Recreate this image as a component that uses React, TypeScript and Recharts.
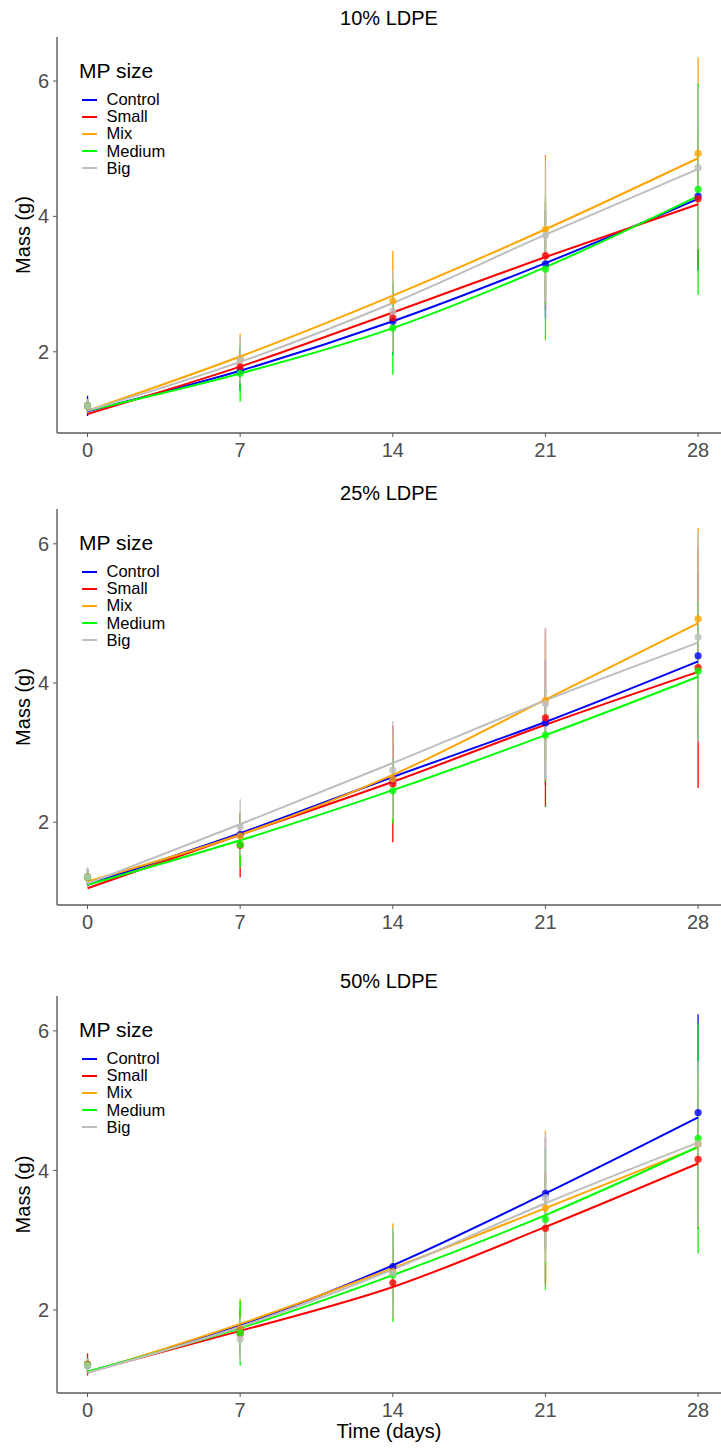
import React from 'react'
import { ComposedChart, Line, Scatter, ErrorBar, XAxis, YAxis, Legend } from 'recharts'

const days = [0, 7, 14, 21, 28]
const groups = ['Control', 'Small', 'Mix', 'Medium', 'Big']
const groupColors = ['#0000FF', '#FF0000', '#FFA500', '#00FF00', '#BEBEBE']
const xTicks = [0, 7, 14, 21, 28]
const yTicks = [2, 4, 6]

// rows follow groups: Control, Small, Mix, Medium, Big
// 10% LDPE
const mean10 = [
  [1.2, 1.72, 2.45, 3.3, 4.3],
  [1.2, 1.78, 2.5, 3.42, 4.26],
  [1.2, 1.9, 2.75, 3.81, 4.93],
  [1.2, 1.68, 2.35, 3.22, 4.4],
  [1.2, 1.88, 2.6, 3.72, 4.72],
]
const sd10 = [
  [0.15, 0.3, 0.5, 0.8, 1.1],
  [0.1, 0.3, 0.5, 0.8, 1.0],
  [0.1, 0.37, 0.74, 1.1, 1.42],
  [0.1, 0.42, 0.69, 1.05, 1.56],
  [0.1, 0.35, 0.6, 1.0, 1.2],
]
const fit10 = [
  [1.12, 1.72, 2.45, 3.31, 4.26],
  [1.08, 1.78, 2.58, 3.4, 4.18],
  [1.13, 1.93, 2.83, 3.81, 4.86],
  [1.13, 1.68, 2.35, 3.25, 4.3],
  [1.13, 1.85, 2.72, 3.73, 4.7],
]

// 25% LDPE
const mean25 = [
  [1.21, 1.82, 2.6, 3.43, 4.39],
  [1.21, 1.67, 2.55, 3.5, 4.22],
  [1.21, 1.8, 2.62, 3.75, 4.92],
  [1.21, 1.68, 2.45, 3.25, 4.17],
  [1.21, 1.93, 2.75, 3.7, 4.66],
]
const sd25 = [
  [0.12, 0.3, 0.55, 0.9, 1.2],
  [0.12, 0.46, 0.84, 1.28, 1.73],
  [0.12, 0.35, 0.6, 0.9, 1.31],
  [0.12, 0.33, 0.47, 0.67, 1.0],
  [0.14, 0.4, 0.7, 1.09, 1.5],
]
const fit25 = [
  [1.1, 1.84, 2.65, 3.44, 4.31],
  [1.05, 1.82, 2.58, 3.4, 4.16],
  [1.15, 1.82, 2.68, 3.76, 4.86],
  [1.1, 1.74, 2.46, 3.25, 4.09],
  [1.12, 1.97, 2.85, 3.75, 4.58],
]

// 50% LDPE
const mean50 = [
  [1.21, 1.72, 2.62, 3.67, 4.83],
  [1.22, 1.66, 2.39, 3.17, 4.16],
  [1.21, 1.73, 2.55, 3.46, 4.38],
  [1.21, 1.67, 2.5, 3.3, 4.46],
  [1.2, 1.58, 2.53, 3.61, 4.38],
]
const sd50 = [
  [0.1, 0.3, 0.5, 0.8, 1.41],
  [0.16, 0.3, 0.5, 0.8, 1.0],
  [0.1, 0.43, 0.69, 1.11, 1.0],
  [0.1, 0.47, 0.67, 1.01, 1.65],
  [0.1, 0.32, 0.65, 0.93, 1.19],
]
const fit50 = [
  [1.11, 1.78, 2.64, 3.67, 4.76],
  [1.11, 1.7, 2.33, 3.19, 4.1],
  [1.1, 1.8, 2.6, 3.46, 4.33],
  [1.12, 1.74, 2.5, 3.36, 4.34],
  [1.1, 1.76, 2.58, 3.53, 4.4],
]

const axisColor = '#5a5a5a'
const tickText = { fill: '#4d4d4d', fontSize: 20, style: { fontSize: 20 } }

function SizeLegend() {
  return (
    <div>
      <div style={{ fontSize: 21, lineHeight: '24px', color: '#000', marginBottom: 8 }}>MP size</div>
      {groups.map((g, k) => (
        <div key={g} style={{ display: 'flex', alignItems: 'center', height: 17.2, fontSize: 16.5, color: '#000' }}>
          <span
            style={{
              display: 'inline-block',
              width: 15,
              height: 2,
              background: groupColors[k],
              marginLeft: 2.5,
              marginRight: 10,
            }}
          />
          <span>{g}</span>
        </div>
      ))}
    </div>
  )
}

interface PanelProps {
  title: string
  top: number
  height: number
  plotTop: number
  plotBottom: number
  titleY: number
  yDomain: [number, number]
  means: number[][]
  sds: number[][]
  fits: number[][]
  xLabel?: string
}

function Panel({ title, top, height, plotTop, plotBottom, titleY, yDomain, means, sds, fits, xLabel }: PanelProps) {
  const fitRows = days.map((day, i) => {
    const row: Record<string, number> = { day }
    groups.forEach((g, k) => {
      row[g] = fits[k][i]
    })
    return row
  })

  return (
    <div style={{ position: 'absolute', left: 0, top, width: 721, height }}>
      <ComposedChart width={721} height={height} data={fitRows} margin={{ top: plotTop, right: 0, bottom: 0, left: 0 }}>
        <XAxis
          dataKey="day"
          type="number"
          domain={[-1.4, 29.05]}
          ticks={xTicks}
          allowDataOverflow
          height={height - plotBottom}
          axisLine={{ stroke: axisColor, strokeWidth: 1.4 }}
          tickLine={{ stroke: axisColor }}
          tickSize={4}
          tickMargin={6}
          tick={tickText}
          label={xLabel ? { value: xLabel, position: 'insideBottom', offset: 10, fill: '#000', fontSize: 20 } : undefined}
        />
        <YAxis
          type="number"
          domain={yDomain}
          ticks={yTicks}
          allowDataOverflow
          width={57}
          axisLine={{ stroke: axisColor, strokeWidth: 1.4 }}
          tickLine={{ stroke: axisColor }}
          tickSize={4}
          tickMargin={4}
          tick={tickText}
          label={{
            value: 'Mass (g)',
            angle: -90,
            position: 'insideLeft',
            offset: 23,
            style: { textAnchor: 'middle', fill: '#000', fontSize: 20 },
          }}
        />
        <Legend
          layout="vertical"
          align="center"
          verticalAlign="middle"
          wrapperStyle={{ left: 79, top: plotTop + 22 }}
          content={() => <SizeLegend />}
        />
        {groups.map((g, k) => (
          <Scatter
            key={'pt-' + g}
            name={g}
            data={days.map((day, i) => ({ day, mass: means[k][i], sd: sds[k][i] }))}
            dataKey="mass"
            fill={groupColors[k]}
            shape={(p: any) => <circle cx={p.cx} cy={p.cy} r={3.6} fill={groupColors[k]} fillOpacity={0.8} />}
            isAnimationActive={false}
            legendType="none"
          >
            <ErrorBar dataKey="sd" direction="y" width={0} stroke={groupColors[k]} strokeWidth={1.3} />
          </Scatter>
        ))}
        {groups.map((g, k) => (
          <Line
            key={'fit-' + g}
            dataKey={g}
            type="monotone"
            stroke={groupColors[k]}
            strokeWidth={2}
            dot={false}
            activeDot={false}
            isAnimationActive={false}
          />
        ))}
      </ComposedChart>
      <div
        style={{
          position: 'absolute',
          left: 57,
          width: 664,
          top: titleY - 12,
          textAlign: 'center',
          fontSize: 20,
          lineHeight: '24px',
          color: '#000',
        }}
      >
        {title}
      </div>
    </div>
  )
}

export default function App() {
  return (
    <div
      style={{
        position: 'absolute',
        left: 0,
        top: 0,
        width: 721,
        height: 1448,
        background: '#fff',
        fontFamily: '"Liberation Sans", Arial, sans-serif',
      }}
    >
      <Panel title="10% LDPE" top={0} height={470} plotTop={37} plotBottom={433} titleY={18}
        yDomain={[0.8, 6.65]} means={mean10} sds={sd10} fits={fit10} />
      <Panel title="25% LDPE" top={470} height={470} plotTop={39} plotBottom={435} titleY={23}
        yDomain={[0.81, 6.5]} means={mean25} sds={sd25} fits={fit25} />
      <Panel title="50% LDPE" top={940} height={508} plotTop={56} plotBottom={453} titleY={41}
        yDomain={[0.81, 6.5]} means={mean50} sds={sd50} fits={fit50} xLabel="Time (days)" />
    </div>
  )
}
